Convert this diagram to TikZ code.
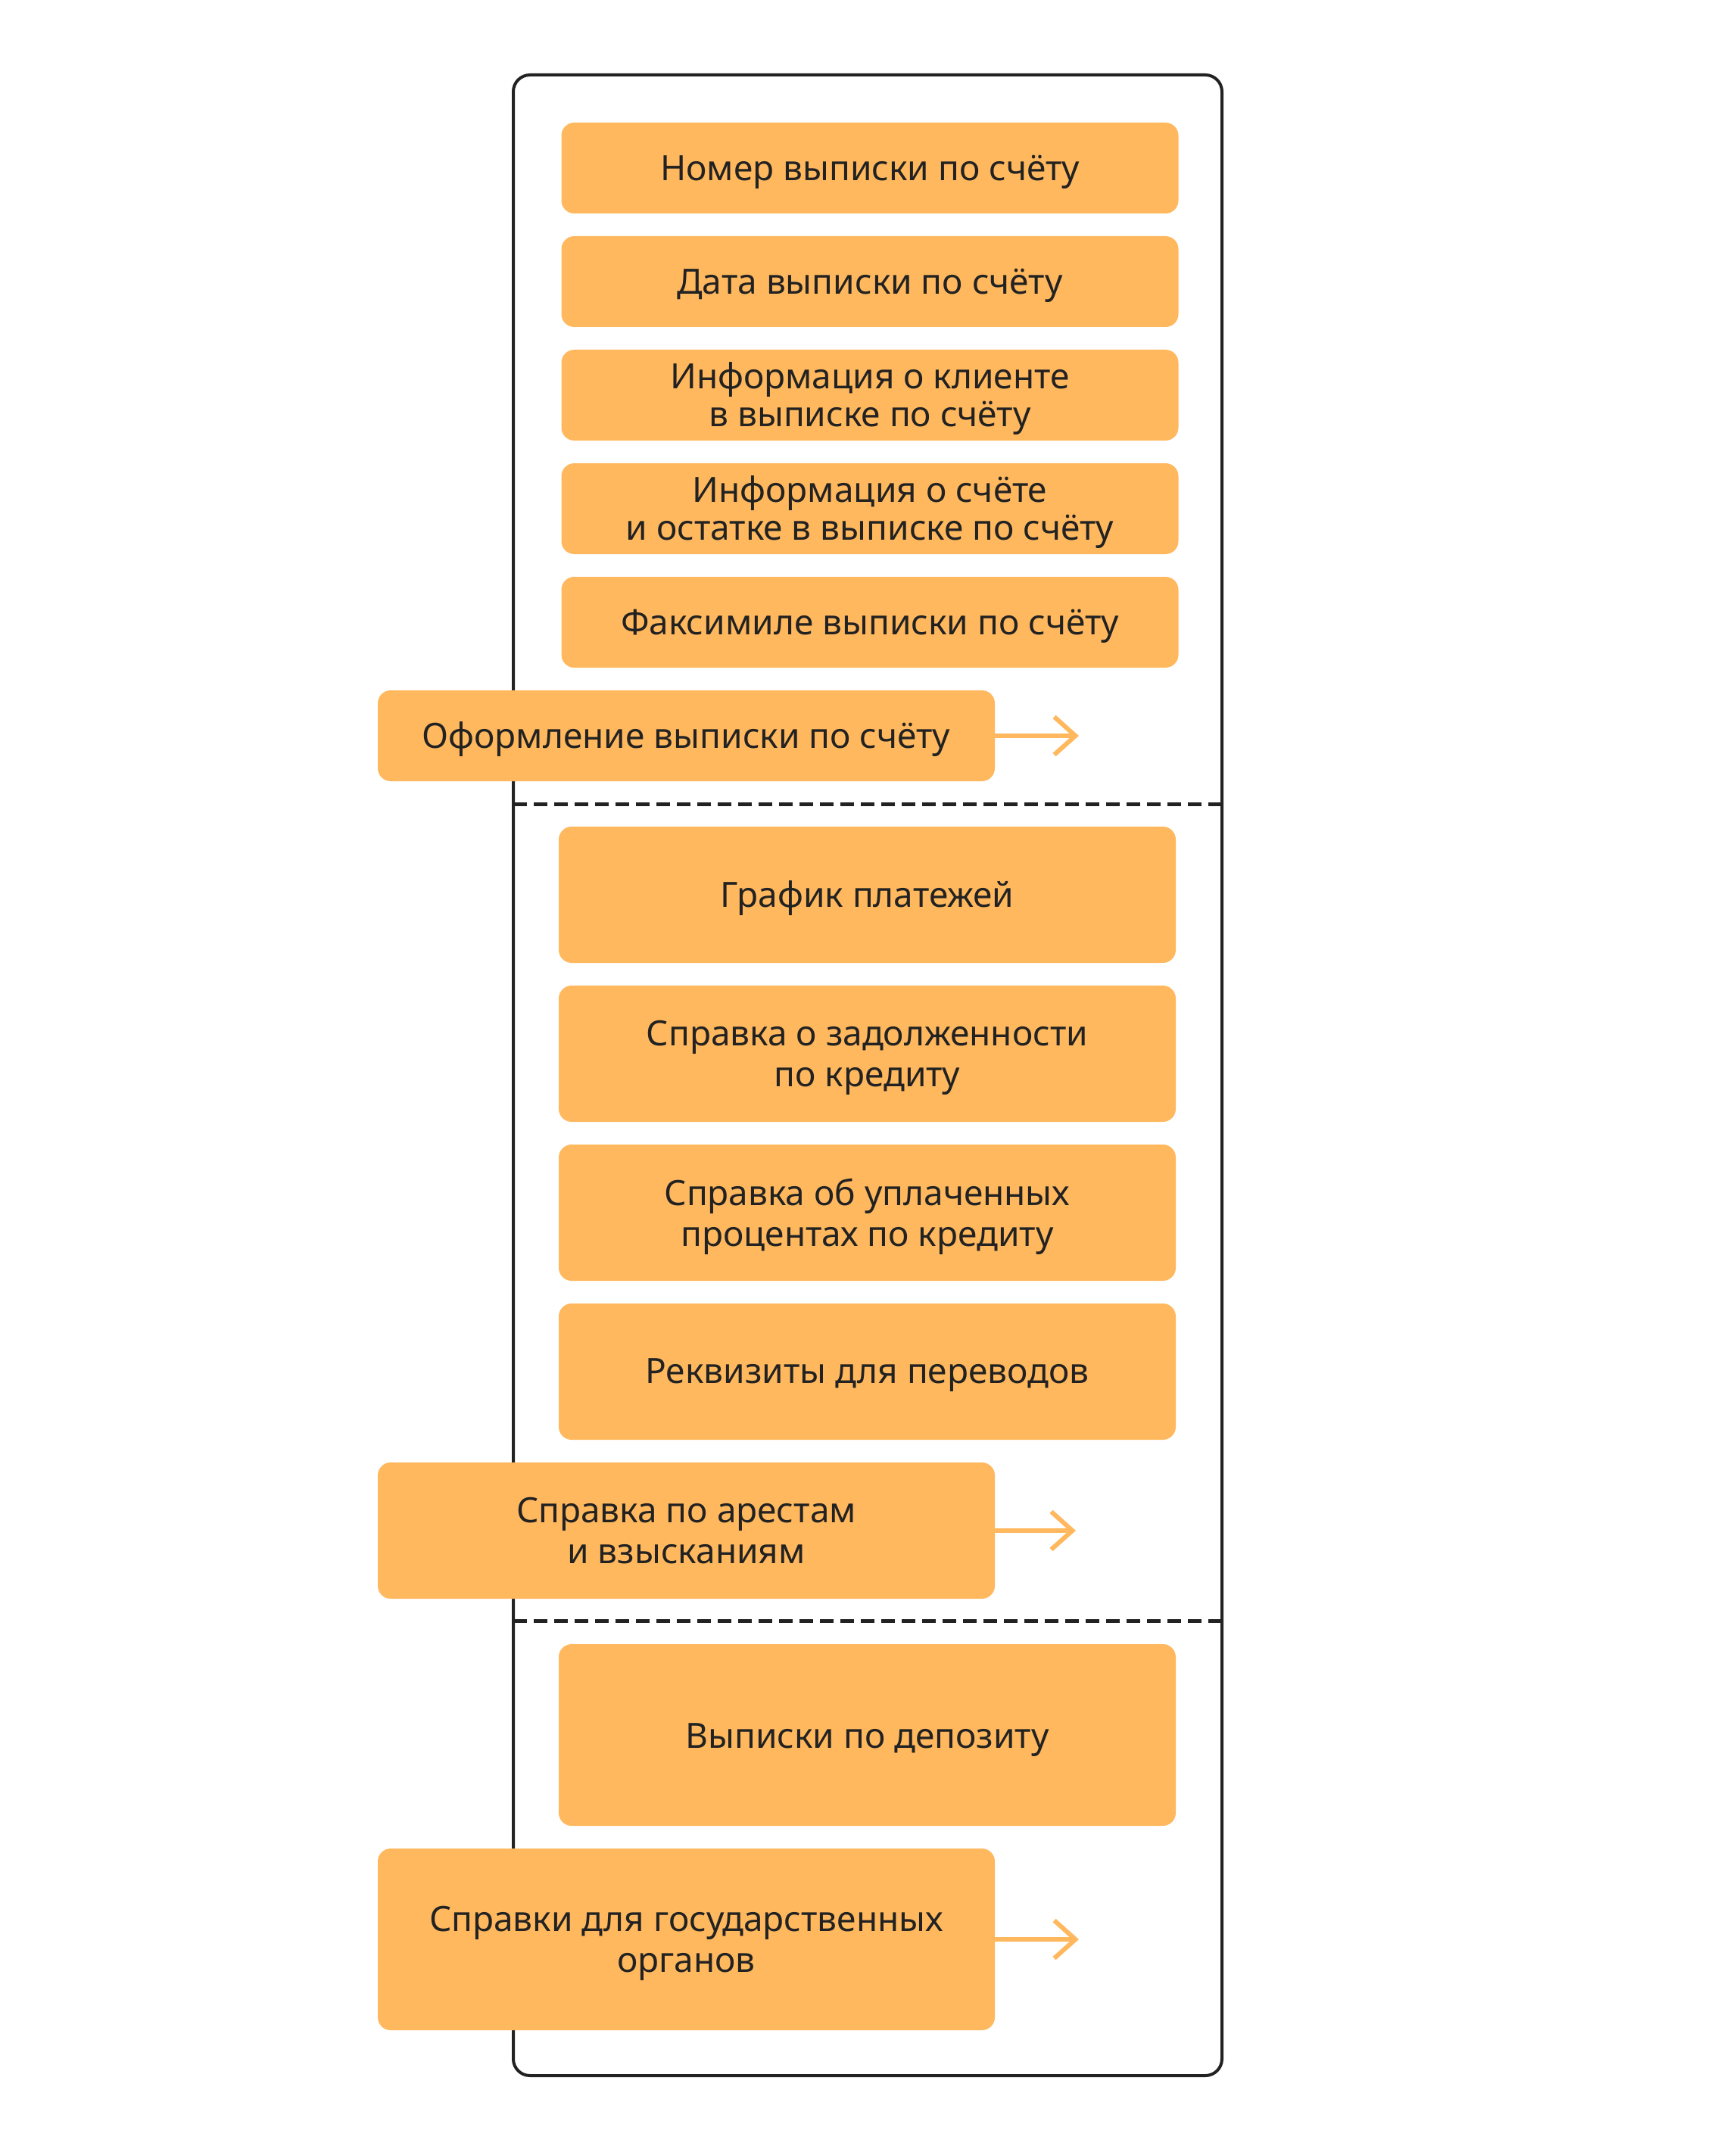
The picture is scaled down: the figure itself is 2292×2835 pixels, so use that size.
\documentclass[tikz,border=0pt]{standalone}
\usepackage{fontspec}
\setmainfont{Noto Sans}
\usetikzlibrary{arrows.meta}
\definecolor{boxorange}{HTML}{FFB85E}
\definecolor{inkdark}{HTML}{222222}
\tikzset{
  obox/.style={rectangle, rounded corners=8.5pt, fill=boxorange, draw=none,
    inner sep=0pt, minimum width=407.5pt},
  smallbox/.style={obox, minimum height=60pt},
  bigbox/.style={obox, minimum height=90pt},
  slab/.style={text=inkdark, align=center, inner sep=0pt, yshift=-2.5pt, font=\fontsize{23}{25}\selectfont},
  blab/.style={text=inkdark, align=center, inner sep=0pt, yshift=-2.5pt, font=\fontsize{23}{27}\selectfont},
  outlinebox/.style={draw=inkdark, line width=2pt, rounded corners=11pt},
  sepline/.style={draw=inkdark, line width=2.5pt, dash pattern=on 9pt off 4.5pt},
  outarrow/.style={draw=boxorange, line width=3pt, -{Straight Barb[length=14pt,width=25pt,line width=3pt]}}
}
\begin{document}
\begin{tikzpicture}[x=0.5pt,y=-0.5pt]
\useasboundingbox (0,0) rectangle (2292,2835);
% outer frame
\draw[outlinebox] (678,99) rectangle (1614,2742);
% separators
\draw[sepline] (678,1062) -- (1614,1062);
\draw[sepline] (678,2141) -- (1614,2141);
% section 1
\node[smallbox, label={[slab]center:Номер выписки по счёту}] (n1) at (1149,222) {};
\node[smallbox, label={[slab]center:Дата выписки по счёту}] (n2) at (1149,372) {};
\node[smallbox, label={[slab]center:{Информация о клиенте\\в выписке по счёту}}] (n3) at (1149,522) {};
\node[smallbox, label={[slab]center:{Информация о счёте\\и остатке в выписке по счёту}}] (n4) at (1149,672) {};
\node[smallbox, label={[slab]center:Факсимиле выписки по счёту}] (n5) at (1149,822) {};
\node[smallbox, label={[slab]center:Оформление выписки по счёту}] (w1) at (906.5,972) {};
\coordinate (a1) at (1425,972);
\draw[outarrow] (w1.east) -- (a1);
% section 2
\node[bigbox, label={[blab]center:График платежей}] (m1) at (1145.5,1182) {};
\node[bigbox, label={[blab]center:{Справка о задолженности\\по кредиту}}] (m2) at (1145.5,1392) {};
\node[bigbox, label={[blab]center:{Справка об уплаченных\\процентах по кредиту}}] (m3) at (1145.5,1602) {};
\node[bigbox, label={[blab]center:Реквизиты для переводов}] (m4) at (1145.5,1812) {};
\node[bigbox, label={[blab, yshift=2.5pt]center:{Справка по арестам\\и взысканиям}}] (w2) at (906.5,2022) {};
\coordinate (a2) at (1421,2022);
\draw[outarrow] (w2.east) -- (a2);
% section 3
\node[bigbox, minimum height=120pt, label={[blab, yshift=-1pt]center:Выписки по депозиту}] (d1) at (1145.5,2292) {};
\node[bigbox, minimum height=120pt, label={[blab]center:{Справки для государственных\\органов}}] (w3) at (906.5,2562) {};
\coordinate (a3) at (1425,2562);
\draw[outarrow] (w3.east) -- (a3);
\end{tikzpicture}
\end{document}
